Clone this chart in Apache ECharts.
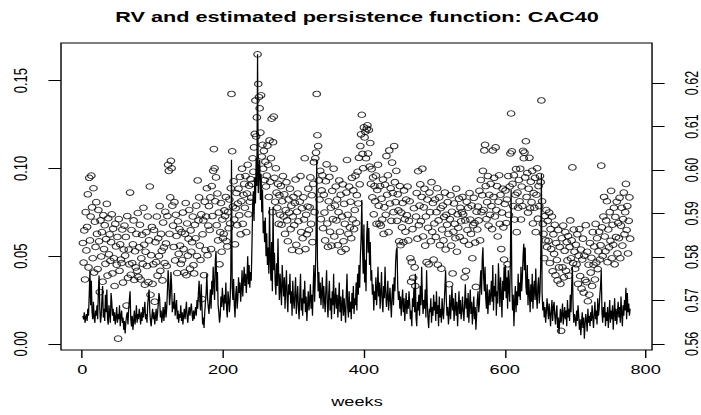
<!DOCTYPE html>
<html>
<head>
<meta charset="utf-8">
<script src="https://cdn.jsdelivr.net/npm/echarts@6/dist/echarts.min.js"></script>
<style>
html,body{margin:0;padding:0;background:#fff;overflow:hidden;width:701px;height:415px;}
#chart{width:501px;height:415px;transform:scaleX(1.3992);transform-origin:0 0;}
</style>
</head>
<body>
<div id="chart"></div>
<script>
// Weekly realized volatility (RV), weeks 1..778
const rv = [
0.016,0.014,0.018,0.012,0.015,0.017,0.013,0.020,0.016,0.028,0.042,0.022,0.036,0.018,0.014,0.024,0.015,0.012,0.019,0.016,
0.022,0.014,0.030,0.039,0.020,0.012,0.016,0.025,0.033,0.015,0.020,0.013,0.028,0.018,0.031,0.014,0.011,0.022,0.017,0.012,
0.029,0.024,0.016,0.020,0.013,0.018,0.011,0.015,0.021,0.012,0.017,0.014,0.022,0.010,0.016,0.019,0.012,0.015,0.008,0.013,
0.006,0.012,0.016,0.018,0.011,0.020,0.025,0.030,0.014,0.010,0.016,0.008,0.013,0.019,0.011,0.015,0.022,0.012,0.017,0.014,
0.020,0.016,0.011,0.018,0.013,0.021,0.015,0.019,0.024,0.014,0.017,0.012,0.022,0.027,0.031,0.018,0.013,0.010,0.016,0.020,
0.014,0.018,0.011,0.015,0.020,0.013,0.017,0.023,0.029,0.026,0.015,0.019,0.012,0.016,0.021,0.013,0.018,0.024,0.015,0.020,
0.030,0.042,0.035,0.022,0.027,0.041,0.033,0.018,0.024,0.020,0.029,0.016,0.021,0.025,0.014,0.019,0.012,0.017,0.015,0.022,
0.013,0.018,0.011,0.016,0.020,0.014,0.019,0.024,0.015,0.012,0.018,0.021,0.016,0.020,0.023,0.017,0.013,0.019,0.014,0.018,
0.021,0.016,0.025,0.020,0.029,0.036,0.026,0.019,0.034,0.022,0.011,0.015,0.009,0.018,0.024,0.029,0.040,0.026,0.021,0.017,
0.024,0.031,0.020,0.036,0.028,0.044,0.033,0.025,0.047,0.053,0.030,0.041,0.022,0.018,0.012,0.016,0.027,0.021,0.032,0.025,
0.019,0.028,0.023,0.035,0.020,0.015,0.030,0.026,0.018,0.024,0.040,0.105,0.032,0.025,0.037,0.022,0.015,0.028,0.033,0.020,
0.026,0.038,0.029,0.035,0.024,0.031,0.042,0.027,0.036,0.044,0.033,0.040,0.029,0.038,0.050,0.034,0.045,0.032,0.041,0.036,
0.055,0.078,0.087,0.070,0.095,0.080,0.106,0.090,0.165,0.086,0.098,0.105,0.082,0.097,0.075,0.088,0.063,0.070,0.058,0.072,
0.050,0.063,0.045,0.055,0.040,0.078,0.048,0.036,0.058,0.030,0.078,0.042,0.052,0.035,0.028,0.046,0.033,0.060,0.038,0.025,
0.040,0.031,0.022,0.045,0.035,0.027,0.038,0.020,0.032,0.042,0.026,0.018,0.034,0.028,0.040,0.023,0.030,0.016,0.036,0.025,
0.020,0.029,0.038,0.017,0.025,0.033,0.021,0.014,0.028,0.040,0.019,0.026,0.016,0.031,0.023,0.036,0.018,0.027,0.013,0.022,
0.030,0.019,0.025,0.034,0.020,0.028,0.016,0.032,0.045,0.024,0.038,0.060,0.105,0.048,0.030,0.041,0.026,0.035,0.022,0.029,
0.038,0.020,0.033,0.025,0.018,0.031,0.042,0.023,0.015,0.028,0.036,0.019,0.026,0.014,0.030,0.022,0.040,0.017,0.025,0.032,
0.020,0.028,0.015,0.024,0.035,0.018,0.027,0.013,0.022,0.031,0.016,0.026,0.019,0.012,0.028,0.040,0.021,0.015,0.030,0.018,
0.024,0.014,0.029,0.020,0.033,0.017,0.026,0.022,0.035,0.019,0.040,0.028,0.045,0.032,0.050,0.060,0.082,0.055,0.040,0.068,
0.035,0.048,0.030,0.062,0.070,0.052,0.066,0.045,0.058,0.036,0.042,0.028,0.034,0.019,0.030,0.025,0.038,0.022,0.031,0.044,
0.027,0.035,0.020,0.029,0.041,0.024,0.018,0.033,0.026,0.044,0.030,0.021,0.027,0.036,0.019,0.025,0.032,0.023,0.015,0.028,
0.034,0.022,0.038,0.030,0.046,0.053,0.055,0.033,0.025,0.030,0.020,0.027,0.016,0.024,0.031,0.018,0.026,0.013,0.022,0.029,
0.017,0.025,0.020,0.030,0.023,0.014,0.019,0.010,0.026,0.021,0.032,0.018,0.040,0.015,0.010,0.024,0.019,0.028,0.016,0.033,
0.022,0.044,0.027,0.017,0.025,0.020,0.031,0.015,0.042,0.023,0.014,0.009,0.020,0.018,0.026,0.012,0.021,0.016,0.028,0.019,
0.024,0.013,0.030,0.017,0.022,0.010,0.027,0.015,0.020,0.012,0.026,0.018,0.014,0.023,0.032,0.042,0.025,0.016,0.021,0.011,
0.017,0.028,0.014,0.022,0.033,0.019,0.026,0.013,0.020,0.029,0.016,0.024,0.010,0.021,0.030,0.017,0.025,0.014,0.019,0.027,
0.018,0.013,0.023,0.034,0.020,0.026,0.015,0.029,0.012,0.022,0.031,0.017,0.024,0.011,0.019,0.027,0.014,0.021,0.008,0.016,
0.025,0.030,0.018,0.023,0.035,0.042,0.028,0.048,0.055,0.038,0.030,0.044,0.026,0.020,0.034,0.017,0.025,0.031,0.022,0.028,
0.036,0.024,0.045,0.019,0.033,0.027,0.040,0.016,0.030,0.023,0.046,0.034,0.021,0.038,0.028,0.015,0.036,0.025,0.044,0.030,
0.045,0.026,0.038,0.020,0.042,0.031,0.024,0.050,0.088,0.035,0.019,0.028,0.010,0.024,0.033,0.018,0.030,0.022,0.040,0.027,
0.035,0.025,0.044,0.030,0.038,0.050,0.057,0.042,0.055,0.033,0.028,0.045,0.022,0.037,0.029,0.018,0.034,0.024,0.040,0.020,
0.031,0.036,0.025,0.043,0.028,0.020,0.033,0.038,0.023,0.030,0.045,0.097,0.029,0.019,0.024,0.015,0.021,0.012,0.018,0.026,
0.020,0.014,0.023,0.017,0.010,0.019,0.025,0.013,0.021,0.024,0.016,0.011,0.018,0.022,0.009,0.015,0.006,0.013,0.020,0.012,
0.017,0.023,0.011,0.016,0.021,0.014,0.019,0.010,0.025,0.015,0.020,0.013,0.028,0.018,0.033,0.044,0.021,0.012,0.017,0.014,
0.010,0.019,0.013,0.022,0.016,0.008,0.014,0.005,0.012,0.018,0.009,0.015,0.003,0.011,0.017,0.013,0.007,0.020,0.012,0.016,
0.010,0.018,0.013,0.022,0.015,0.009,0.017,0.024,0.014,0.019,0.011,0.026,0.016,0.020,0.028,0.033,0.042,0.018,0.012,0.021,
0.015,0.024,0.010,0.018,0.013,0.021,0.009,0.016,0.025,0.012,0.019,0.014,0.022,0.008,0.017,0.026,0.013,0.020,0.011,0.018,
0.024,0.015,0.021,0.012,0.027,0.017,0.010,0.022,0.016,0.025,0.019,0.032,0.014,0.029,0.018,0.023,0.016,0.020
];

// Estimated persistence function, weeks 1..778
const persistence = [
0.5832,0.5787,0.5861,0.5748,0.5903,0.5815,0.5869,0.5944,0.5776,0.5982,0.5838,0.5893,0.5987,0.5914,0.5797,0.5958,0.5764,0.5881,0.5823,0.5926,
0.5853,0.5772,0.5908,0.5836,0.5719,0.5884,0.5801,0.5857,0.5743,0.5896,0.5818,0.5873,0.5784,0.5841,0.5922,0.5757,0.5889,0.5806,0.5852,0.5791,
0.5834,0.5898,0.5762,0.5865,0.5797,0.5733,0.5876,0.5824,0.5782,0.5846,0.5612,0.5887,0.5768,0.5829,0.5794,0.5786,0.5863,0.5741,0.5817,0.5872,
0.5803,0.5846,0.5688,0.5894,0.5752,0.5817,0.5783,0.5948,0.5759,0.5862,0.5786,0.5829,0.5884,0.5747,0.5813,0.5776,0.5853,0.5768,0.5901,0.5754,
0.5822,0.5874,0.5748,0.5797,0.5851,0.5784,0.5913,0.5828,0.5736,0.5812,0.5857,0.5779,0.5893,0.5742,0.5838,0.5962,0.5713,0.5804,0.5869,0.5738,
0.5783,0.5862,0.5697,0.5834,0.5788,0.5893,0.5757,0.5843,0.5802,0.5917,0.5768,0.5853,0.5814,0.5746,0.5879,0.5822,0.5786,0.5904,0.5831,0.5779,
0.5894,0.6012,0.5998,0.5853,0.5937,0.6021,0.6004,0.5918,0.5872,0.5823,0.5926,0.5792,0.5897,0.5848,0.5763,0.5882,0.5807,0.5864,0.5826,0.5784,
0.5857,0.5793,0.5902,0.5818,0.5764,0.5853,0.5924,0.5758,0.5877,0.5803,0.5842,0.5908,0.5773,0.5861,0.5812,0.5834,0.5893,0.5781,0.5762,0.5874,
0.5843,0.5918,0.5802,0.5976,0.5884,0.5937,0.5826,0.5793,0.5898,0.5703,0.5852,0.5884,0.5758,0.5927,0.5816,0.5893,0.5958,0.5804,0.5872,0.5917,
0.5862,0.5937,0.5818,0.5963,0.5894,0.5998,0.6048,0.6004,0.5928,0.5983,0.5873,0.5946,0.5838,0.5902,0.5783,0.5857,0.5924,0.5812,0.5886,0.5843,
0.5853,0.5907,0.5894,0.5938,0.5836,0.5824,0.5903,0.5866,0.5932,0.5877,0.5958,0.6175,0.6043,0.5916,0.5974,0.5886,0.5829,0.5912,0.5947,0.5873,
0.5923,0.5957,0.5896,0.5984,0.5852,0.5928,0.6003,0.5876,0.5943,0.5968,0.5913,0.5986,0.5857,0.5946,0.6012,0.5898,0.5964,0.5927,0.5979,0.5936,
0.5968,0.6027,0.5996,0.6052,0.6083,0.6160,0.6077,0.6121,0.6266,0.6198,0.6168,0.6142,0.6086,0.6172,0.6031,0.6058,0.6003,0.6044,0.5977,0.6019,
0.5962,0.5987,0.6056,0.6012,0.5938,0.6068,0.5973,0.6027,0.6118,0.5903,0.6064,0.6123,0.5982,0.5927,0.6004,0.5948,0.5913,0.5968,0.5876,0.5942,
0.5897,0.5963,0.5874,0.5928,0.5986,0.5893,0.5944,0.5853,0.5908,0.5972,0.5884,0.5836,0.5932,0.5902,0.5957,0.5864,0.5918,0.5816,0.5893,0.5938,
0.5873,0.5924,0.5978,0.5828,0.5904,0.5946,0.5882,0.5813,0.5927,0.5986,0.5857,0.5912,0.5843,0.5937,0.5886,0.6027,0.5818,0.5897,0.5852,0.5916,
0.5957,0.5862,0.5914,0.5983,0.5876,0.5942,0.5834,0.5968,0.6018,0.5903,0.6027,0.6040,0.6175,0.6080,0.6055,0.5976,0.5932,0.5998,0.5887,0.5953,
0.5988,0.5866,0.5943,0.5902,0.5838,0.5974,0.6013,0.5877,0.5823,0.5928,0.5984,0.5858,0.5913,0.5826,0.5952,0.5887,0.6003,0.5847,0.5918,0.5962,
0.5884,0.5932,0.5827,0.5903,0.5976,0.5858,0.5943,0.5812,0.5893,0.5967,0.5836,0.5922,0.5876,0.5818,0.5948,0.6023,0.5897,0.5853,0.5962,0.5868,
0.5927,0.5843,0.5982,0.5886,0.5953,0.5864,0.5908,0.5987,0.5878,0.5942,0.5996,0.5923,0.6028,0.5967,0.6055,0.6082,0.6127,0.6037,0.6004,0.6098,
0.6075,0.6088,0.6027,0.6095,0.6103,0.6038,0.6092,0.6008,0.6062,0.5968,0.6002,0.5937,0.5983,0.5898,0.5963,0.5928,0.5987,0.5876,0.5954,0.6012,
0.5918,0.5877,0.5963,0.5872,0.5934,0.5886,0.5978,0.5853,0.5914,0.5966,0.5897,0.6032,0.5943,0.5988,0.5857,0.6045,0.5923,0.5958,0.5883,0.6017,
0.5947,0.5903,0.6055,0.5972,0.5926,0.5998,0.5883,0.5944,0.5907,0.5836,0.5963,0.5827,0.5902,0.5868,0.5924,0.5834,0.5953,0.5887,0.5858,0.5932,
0.5896,0.5962,0.5838,0.5883,0.5928,0.5797,0.5743,0.5788,0.5864,0.5752,0.5912,0.5776,0.5733,0.5893,0.5947,0.5842,0.5997,0.5873,0.5918,0.5967,
0.5882,0.5938,0.6003,0.5847,0.5914,0.5957,0.5826,0.5893,0.5788,0.5932,0.5867,0.5783,0.5948,0.5903,0.5836,0.5972,0.5858,0.5924,0.5794,0.5877,
0.5932,0.5846,0.5903,0.5958,0.5782,0.5884,0.5937,0.5827,0.5912,0.5773,0.5863,0.5918,0.5838,0.5892,0.5948,0.5817,0.5897,0.5874,0.5926,0.5853,
0.5737,0.5887,0.5942,0.5826,0.5904,0.5762,0.5858,0.5923,0.5876,0.5843,0.5957,0.5812,0.5898,0.5867,0.5934,0.5846,0.5913,0.5882,0.5903,0.5938,
0.5898,0.5837,0.5753,0.5884,0.5768,0.5927,0.5862,0.5913,0.5828,0.5947,0.5886,0.5853,0.5918,0.5797,0.5873,0.5936,0.5878,0.5833,0.5731,0.5904,
0.5863,0.5916,0.5884,0.5952,0.5838,0.5977,0.5903,0.5942,0.5998,0.5908,0.6045,0.6058,0.5963,0.5887,0.5926,0.5986,0.5872,0.5943,0.5897,0.5968,
0.5917,0.5864,0.6045,0.5938,0.5982,0.5893,0.6052,0.5908,0.5963,0.5847,0.5927,0.5988,0.5876,0.5943,0.5818,0.5902,0.5957,0.5868,0.5794,0.5922,
0.5953,0.5878,0.5932,0.5783,0.5986,0.5897,0.5962,0.6038,0.6130,0.6043,0.5968,0.5917,0.5988,0.5886,0.5943,0.6002,0.5857,0.5948,0.5913,0.5977,
0.5928,0.6003,0.5886,0.5962,0.5917,0.6044,0.6027,0.6040,0.5983,0.6066,0.5938,0.5993,0.5902,0.5957,0.6028,0.5912,0.5973,0.5926,0.5998,0.5877,
0.5947,0.5913,0.5982,0.5857,0.5943,0.6004,0.5888,0.5963,0.5917,0.5986,0.5972,0.6160,0.5928,0.5876,0.5853,0.5797,0.5894,0.5838,0.5908,0.5823,
0.5883,0.5837,0.5902,0.5786,0.5864,0.5818,0.5893,0.5767,0.5852,0.5807,0.5874,0.5758,0.5832,0.5793,0.5746,0.5862,0.5776,0.5823,0.5738,0.5630,
0.5843,0.5776,0.5872,0.5753,0.5814,0.5857,0.5768,0.5834,0.5792,0.5848,0.5757,0.5823,0.5884,0.5797,0.5838,0.6006,0.5786,0.5863,0.5812,0.5773,
0.5828,0.5783,0.5852,0.5738,0.5803,0.5864,0.5756,0.5817,0.5727,0.5794,0.5842,0.5718,0.5803,0.5747,0.5873,0.5742,0.5812,0.5698,0.5782,0.5713,
0.5832,0.5764,0.5798,0.5733,0.5857,0.5782,0.5824,0.5748,0.5876,0.5787,0.5843,0.5772,0.5813,0.5858,0.5794,0.5827,0.6010,0.5868,0.5802,0.5893,
0.5938,0.5847,0.5813,0.5884,0.5928,0.5788,0.5863,0.5822,0.5903,0.5837,0.5952,0.5797,0.5874,0.5828,0.5913,0.5783,0.5892,0.5846,0.5927,0.5808,
0.5878,0.5843,0.5936,0.5797,0.5872,0.5913,0.5826,0.5887,0.5948,0.5852,0.5903,0.5968,0.5862,0.5917,0.5808,0.5883,0.5937,0.5842
];

// Tick values / labels
const xTicks = [0, 200, 400, 600, 800];
const rvTicks = [0.00, 0.05, 0.10, 0.15];
const persTicks = [0.56, 0.57, 0.58, 0.59, 0.60, 0.61, 0.62];

const titleText = 'RV and estimated persistence function: CAC40';
const xLabel = 'weeks';

const n = Math.min(rv.length, persistence.length);
const rvData = [], persData = [];
for (let i = 0; i < n; i++) {
  rvData.push([i + 1, rv[i]]);
  persData.push([i + 1, persistence[i]]);
}
// R-style 4% axis extension
function ext(arr) {
  const lo = Math.min.apply(null, arr), hi = Math.max.apply(null, arr);
  const r = hi - lo;
  return [lo - 0.04 * r, hi + 0.04 * r];
}
const xr = ext([1, n]);
const yr1 = ext(rv.slice(0, n));
const yr2 = ext(persistence.slice(0, n));

// The reference is horizontally stretched; the chart is drawn at 501px width
// and the container is scaled horizontally to 701px (see CSS).
const SX = 1.3992;
const FONT = '"Liberation Sans", Arial, Helvetica, sans-serif';
const chart = echarts.init(document.getElementById('chart'), null, {renderer: 'svg', width: 501, height: 415});
const tickStyle = {color: '#000', width: 1};
chart.setOption({
  animation: false,
  backgroundColor: '#ffffff',
  grid: {left: 61 / SX, right: 48 / SX, top: 43, bottom: 65, show: true, borderColor: '#000', borderWidth: 1, backgroundColor: 'transparent'},
  xAxis: {
    type: 'value', min: xr[0], max: xr[1],
    splitLine: {show: false},
    axisLine: {show: false, onZero: false},
    axisTick: {show: true, length: 8, lineStyle: tickStyle, customValues: xTicks},
    axisLabel: {color: '#000', fontSize: 13, fontFamily: FONT, margin: 13, customValues: xTicks, formatter: v => String(v)}
  },
  yAxis: [{
    type: 'value', min: yr1[0], max: yr1[1], position: 'left',
    splitLine: {show: false},
    axisLine: {show: false, onZero: false},
    axisTick: {show: true, length: 9, lineStyle: tickStyle, customValues: rvTicks},
    axisLabel: {color: '#000', fontSize: 13, fontFamily: FONT, rotate: 90, margin: 22, customValues: rvTicks, formatter: v => v.toFixed(2)}
  }, {
    type: 'value', min: yr2[0], max: yr2[1], position: 'right',
    splitLine: {show: false},
    axisLine: {show: false, onZero: false},
    axisTick: {show: true, length: 9, lineStyle: tickStyle, customValues: persTicks},
    axisLabel: {color: '#000', fontSize: 12.5, fontFamily: FONT, rotate: 90, margin: 22, customValues: persTicks, formatter: v => v.toFixed(2)}
  }],
  graphic: [
    {type: 'text', x: 357 / SX, y: 17, style: {text: titleText, font: 'bold 15.5px ' + FONT, fill: '#000', textAlign: 'center', textVerticalAlign: 'middle'}},
    {type: 'text', x: 357 / SX, y: 401, style: {text: xLabel, font: '13px ' + FONT, fill: '#000', textAlign: 'center', textVerticalAlign: 'middle'}}
  ],
  series: [{
    type: 'line', xAxisIndex: 0, yAxisIndex: 0, data: rvData,
    showSymbol: false, symbol: 'none',
    lineStyle: {color: '#000', width: 0.9}, z: 2
  }, {
    type: 'scatter', xAxisIndex: 0, yAxisIndex: 1, data: persData,
    symbol: 'circle', symbolSize: [5.4, 5.6],
    itemStyle: {color: 'rgba(0,0,0,0)', borderColor: '#000', borderWidth: 0.9}, z: 3
  }]
});
</script>
</body>
</html>
